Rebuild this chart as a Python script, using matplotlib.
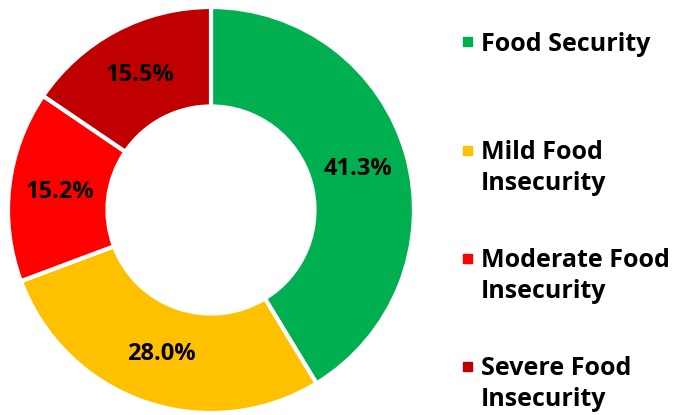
import matplotlib.pyplot as plt
from matplotlib.patches import Rectangle

# Share of households by food security status
categories = ["Food Security", "Mild Food\nInsecurity",
              "Moderate Food\nInsecurity", "Severe Food\nInsecurity"]
shares = [41.3, 28.0, 15.2, 15.5]
colors = ["#00B050", "#FFC000", "#FF0000", "#C00000"]

W, H = 679, 415
fig = plt.figure(figsize=(W / 100, H / 100), dpi=100)

# donut: centre ~ (211, 210) px, outer radius ~203 px
ax = fig.add_axes([8 / W, 2 / H, 406 / W, 406 / H])
wedges, texts, autotexts = ax.pie(
    shares, colors=colors, startangle=90, counterclock=False,
    radius=1.0, autopct="%.1f%%", pctdistance=0.75,
    wedgeprops=dict(width=0.49, edgecolor="white", linewidth=3),
    textprops=dict(fontsize=17, fontweight="bold", color="black",
                   family="Open Sans"))
ax.set_xlim(-1.0, 1.0)
ax.set_ylim(-1.0, 1.0)
ax.set_aspect("equal")
ax.axis("off")

# legend drawn by hand on the right
first_rows = [42, 150, 258, 366]
for label, color, y in zip(categories, colors, first_rows):
    fig.patches.append(Rectangle((463 / W, 1 - (y + 4.5) / H), 9 / W, 9 / H,
                                 transform=fig.transFigure, color=color))
    fig.text(481 / W, 1 - (y - 10) / H, label, ha="left", va="top",
             fontsize=18, fontweight="bold", family="Open Sans",
             color="black", linespacing=1.3)

fig.savefig("out.png", dpi=100)
